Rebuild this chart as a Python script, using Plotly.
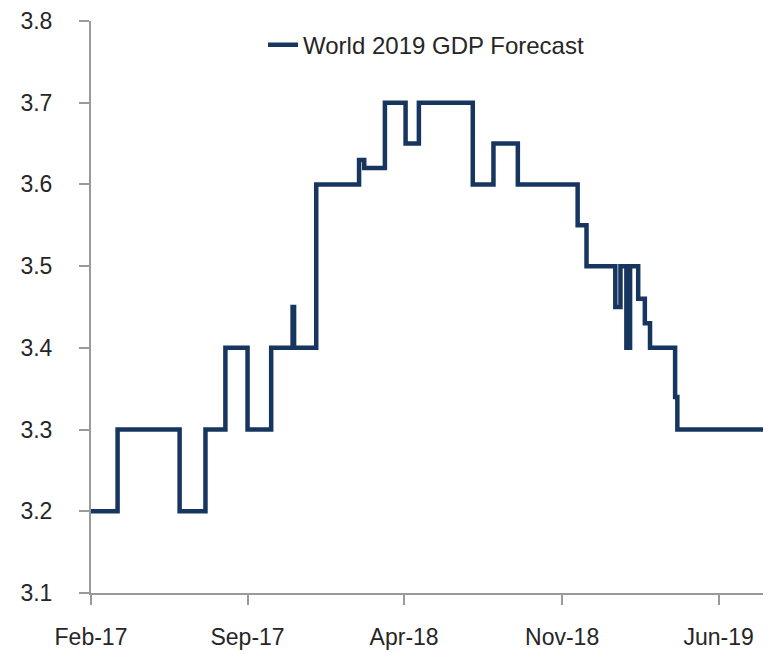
import plotly.graph_objects as go

# Dates on which the forecast changed, and the new value from that date on
dates = [
    "2017-02-01", "2017-03-09", "2017-06-01", "2017-07-06", "2017-08-02",
    "2017-09-01", "2017-10-03", "2017-11-01", "2017-11-03", "2017-12-03",
    "2018-01-30", "2018-02-06", "2018-03-06", "2018-04-03", "2018-04-21",
    "2018-07-03", "2018-07-31", "2018-09-02", "2018-11-22", "2018-12-04",
    "2019-01-12", "2019-01-19", "2019-01-27", "2019-02-01", "2019-02-12",
    "2019-02-21", "2019-02-28", "2019-04-03", "2019-04-06", "2019-07-31",
]
forecast = [
    3.20, 3.30, 3.20, 3.30, 3.40,
    3.30, 3.40, 3.45, 3.40, 3.60,
    3.63, 3.62, 3.70, 3.65, 3.70,
    3.60, 3.65, 3.60, 3.55, 3.50,
    3.45, 3.50, 3.40, 3.50, 3.46,
    3.43, 3.40, 3.34, 3.30, 3.30,
]
series_name = "World 2019 GDP Forecast"
tick_dates = ["2017-02-01", "2017-09-01", "2018-04-01", "2018-11-01", "2019-06-01"]
tick_labels = ["Feb-17", "Sep-17", "Apr-18", "Nov-18", "Jun-19"]
y_ticks = [3.1, 3.2, 3.3, 3.4, 3.5, 3.6, 3.7, 3.8]

LINE = "#17365f"
AXIS = "#9a9a9a"
TEXT = "#262626"
FONT = "Liberation Sans, Arial, sans-serif"

fig = go.Figure()
fig.add_trace(go.Scatter(
    x=dates, y=forecast, name=series_name, mode="lines",
    line=dict(color=LINE, width=4.5, shape="hv"),
))

fig.update_layout(
    width=771, height=654,
    margin=dict(l=91, r=8, t=21, b=61),
    paper_bgcolor="white", plot_bgcolor="white",
    font=dict(family=FONT, size=23, color=TEXT),
    showlegend=True,
    legend=dict(
        orientation="h", x=0.256, y=0.997, xanchor="left", yanchor="top",
        bgcolor="rgba(0,0,0,0)", font=dict(family=FONT, size=24, color=TEXT),
    ),
    xaxis=dict(
        type="date", range=["2017-02-01", "2019-07-31"], automargin=False,
        tickmode="array", tickvals=tick_dates, ticktext=tick_labels,
        showgrid=False, zeroline=False,
        showline=True, linecolor=AXIS, linewidth=2,
        ticks="outside", ticklen=10, tickwidth=2, tickcolor=AXIS,
        ticklabelstandoff=12,
        tickfont=dict(family=FONT, size=23, color=TEXT),
    ),
    yaxis=dict(
        range=[3.1, 3.8], automargin=False, tickmode="array", tickvals=y_ticks,
        ticktext=[f"{v:.1f}" for v in y_ticks],
        showgrid=False, zeroline=False,
        showline=True, linecolor=AXIS, linewidth=2,
        ticks="outside", ticklen=10, tickwidth=2, tickcolor=AXIS,
        ticklabelstandoff=22,
        tickfont=dict(family=FONT, size=23, color=TEXT),
    ),
)

fig.write_html(
    "out.html",
    config={"displayModeBar": False},
    post_script="document.body.style.margin='0';document.body.style.overflow='hidden';",
)
